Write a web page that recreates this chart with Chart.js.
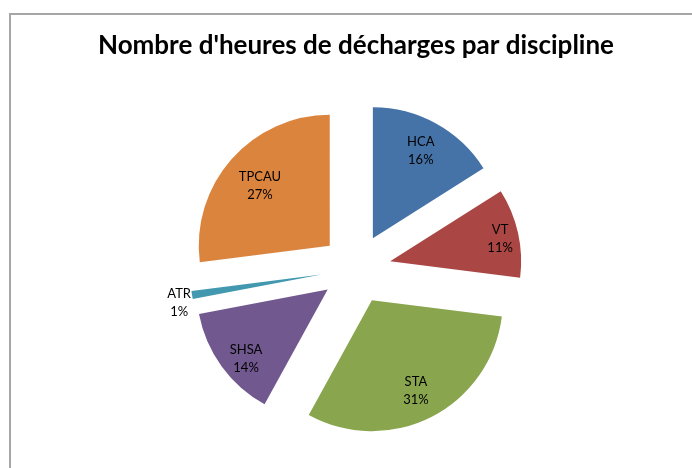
<!DOCTYPE html>
<html>
<head>
<meta charset="utf-8">
<script src="https://cdn.jsdelivr.net/npm/chart.js@4/dist/chart.umd.min.js"></script>
<style>
  html, body { margin: 0; padding: 0; background: #ffffff; }
  #wrap { width: 692px; height: 468px; }
</style>
</head>
<body>
<div id="wrap"><canvas id="c" width="692" height="468"></canvas></div>
<script>
// ---- data ----
const categories = ['HCA', 'VT', 'STA', 'SHSA', 'ATR', 'TPCAU'];
const shares = [16, 11, 31, 14, 1, 27];
const sliceColors = ['#4572A7', '#AA4643', '#89A54E', '#71588F', '#4198AF', '#DB843D'];
const chartTitle = "Nombre d'heures de décharges par discipline";

// ---- style ----
const EXPLODE = 35;
const labelFactor = [0.76, 0.86, 0.74, 0.77, 1.10, 0.71];
const labelNudgeY = [0, 2, 4, 10, 6, 1];
const LABEL_FONT = '13px Lato, "Open Sans", sans-serif';

const explodePlugin = {
  id: 'explodePlugin',
  afterDatasetUpdate(chart, args) {
    args.meta.data.forEach(arc => {
      const mid = (arc.startAngle + arc.endAngle) / 2;
      arc.x += Math.cos(mid) * EXPLODE;
      arc.y += Math.sin(mid) * EXPLODE;
    });
  }
};

const framePlugin = {
  id: 'framePlugin',
  beforeDraw(chart) {
    const ctx = chart.ctx;
    ctx.save();
    ctx.fillStyle = '#ffffff';
    ctx.fillRect(0, 0, chart.width, chart.height);
    ctx.strokeStyle = '#a6a6a6';
    ctx.lineWidth = 2;
    ctx.beginPath();
    ctx.moveTo(10, chart.height);
    ctx.lineTo(10, 14);
    ctx.lineTo(chart.width, 14);
    ctx.stroke();
    ctx.restore();
  }
};

const labelPlugin = {
  id: 'labelPlugin',
  afterDatasetsDraw(chart) {
    const meta = chart.getDatasetMeta(0);
    const data = chart.data.datasets[0].data;
    const total = data.reduce((a, b) => a + b, 0);
    const ctx = chart.ctx;
    ctx.save();
    ctx.font = LABEL_FONT;
    ctx.fillStyle = '#000000';
    ctx.textAlign = 'center';
    ctx.textBaseline = 'middle';
    meta.data.forEach((arc, i) => {
      const mid = (arc.startAngle + arc.endAngle) / 2;
      const r = arc.outerRadius * labelFactor[i];
      const x = arc.x + Math.cos(mid) * r;
      const y = arc.y + Math.sin(mid) * r + labelNudgeY[i];
      const pct = Math.round(data[i] / total * 100) + '%';
      ctx.fillText(chart.data.labels[i], x, y - 9);
      ctx.fillText(pct, x, y + 9);
    });
    ctx.restore();
  }
};

new Chart(document.getElementById('c'), {
  type: 'pie',
  data: {
    labels: categories,
    datasets: [{
      data: shares,
      backgroundColor: sliceColors,
      borderWidth: 0,
      radius: 131,
      clip: false
    }]
  },
  options: {
    responsive: false,
    animation: false,
    layout: { padding: { left: 20, right: 0, top: 20, bottom: 0 } },
    plugins: {
      legend: { display: false },
      tooltip: { enabled: false },
      title: {
        display: true,
        text: chartTitle,
        color: '#000000',
        font: { family: 'Lato, "Open Sans", sans-serif', size: 26, weight: 'bold', lineHeight: 1.2 },
        padding: { top: 10, bottom: 8.8 }
      }
    }
  },
  plugins: [explodePlugin, framePlugin, labelPlugin]
});
</script>
</body>
</html>
